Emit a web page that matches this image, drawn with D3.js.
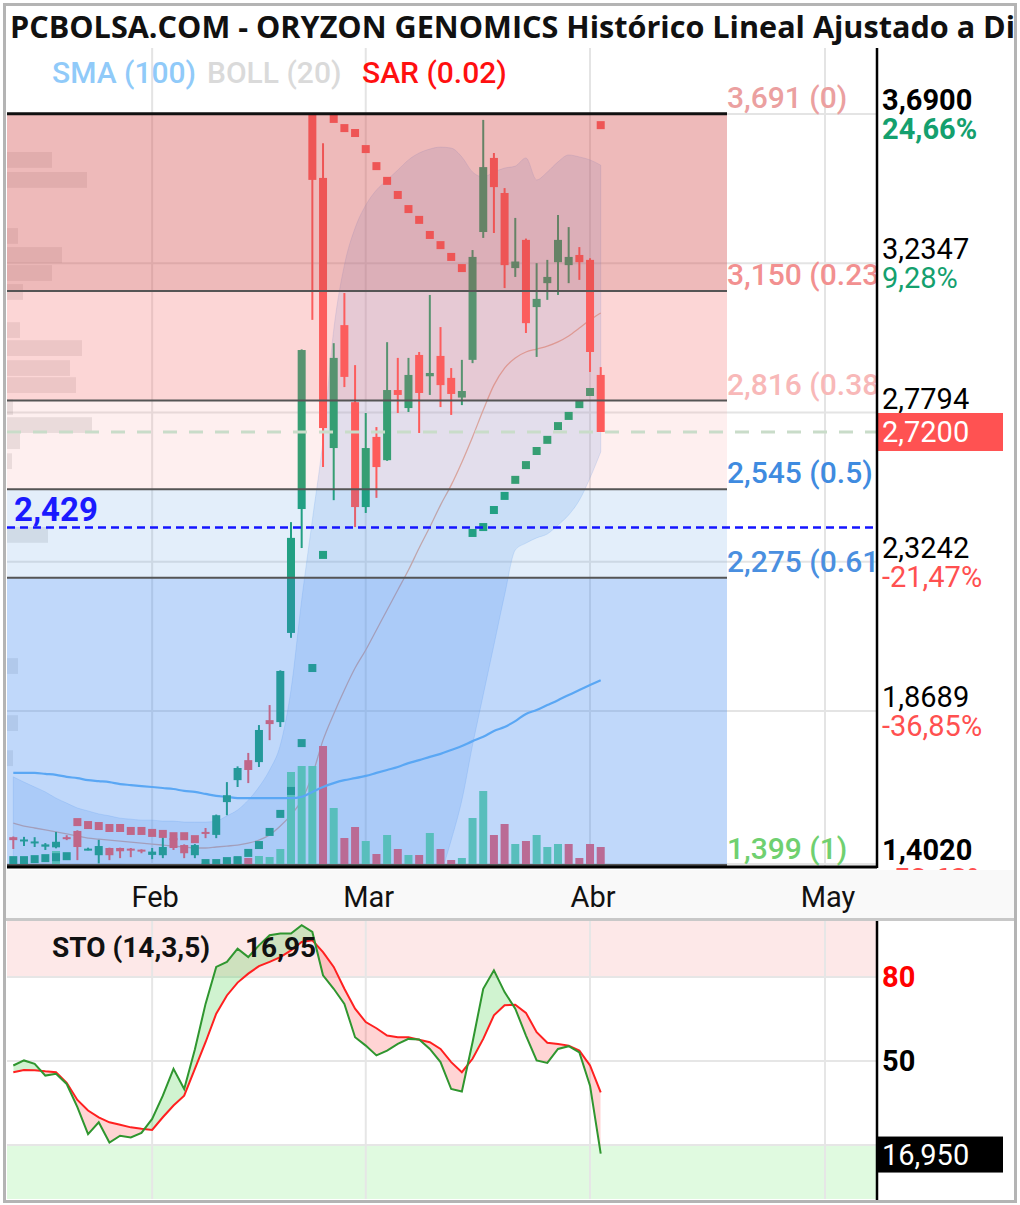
<!DOCTYPE html>
<html><head><meta charset="utf-8">
<script src="https://cdn.jsdelivr.net/npm/d3@7"></script>
<style>
body{margin:0;background:#fff;}
svg{display:block;font-family:Roboto,"Noto Sans",sans-serif;}
</style>
</head><body>
<svg id="c" width="1020" height="1205"></svg>
<script>
// ---------------- DATA ----------------
const dates = ["2025-01-15","2025-01-16","2025-01-17","2025-01-20","2025-01-21","2025-01-22","2025-01-23","2025-01-24","2025-01-27","2025-01-28","2025-01-29","2025-01-30","2025-01-31",
"2025-02-03","2025-02-04","2025-02-05","2025-02-06","2025-02-07","2025-02-10","2025-02-11","2025-02-12","2025-02-13","2025-02-14","2025-02-17","2025-02-18","2025-02-19","2025-02-20","2025-02-21","2025-02-24","2025-02-25","2025-02-26","2025-02-27","2025-02-28",
"2025-03-03","2025-03-04","2025-03-05","2025-03-06","2025-03-07","2025-03-10","2025-03-11","2025-03-12","2025-03-13","2025-03-14","2025-03-17","2025-03-18","2025-03-19","2025-03-20","2025-03-21","2025-03-24","2025-03-25","2025-03-26","2025-03-27","2025-03-28","2025-03-31",
"2025-04-01","2025-04-02"];
const open  = [1.484,1.474,1.468,1.455,1.453,1.484,1.503,1.447,1.429,1.451,1.451,1.449,1.446,1.430,1.429,1.481,1.460,1.429,1.500,1.491,1.591,1.658,1.719,1.713,1.841,1.835,2.107,2.485,3.687,3.495,2.671,3.046,2.811,2.491,2.705,2.634,2.848,2.793,2.955,2.890,2.952,2.885,2.825,2.940,3.330,3.556,3.449,3.220,3.306,3.101,3.174,3.238,3.229,3.260,3.245,2.894];
const high  = [1.486,1.485,1.484,1.466,1.500,1.490,1.505,1.452,1.476,1.452,1.452,1.451,1.447,1.451,1.485,1.483,1.462,1.463,1.512,1.553,1.652,1.700,1.741,1.826,1.887,1.993,2.445,2.972,3.690,3.601,2.991,3.144,2.924,2.778,2.735,2.994,2.946,2.946,2.964,3.138,3.040,2.915,2.940,3.275,3.672,3.571,3.464,3.373,3.310,3.235,3.245,3.382,3.345,3.284,3.250,2.918];
const low   = [1.448,1.457,1.454,1.445,1.450,1.475,1.414,1.444,1.404,1.414,1.420,1.423,1.435,1.417,1.420,1.445,1.420,1.420,1.481,1.481,1.551,1.637,1.649,1.698,1.780,1.820,2.092,2.366,3.062,2.613,2.512,2.857,2.430,2.473,2.519,2.632,2.778,2.781,2.717,2.833,2.796,2.772,2.802,2.930,3.312,3.327,3.159,3.193,3.022,2.949,3.123,3.138,3.174,3.184,2.903,2.720];
const close = [1.475,1.477,1.471,1.462,1.470,1.480,1.454,1.449,1.457,1.429,1.441,1.445,1.440,1.440,1.454,1.451,1.435,1.460,1.495,1.551,1.612,1.695,1.689,1.811,1.829,1.991,2.397,2.970,3.489,2.732,2.946,2.888,2.491,2.671,2.613,2.848,2.833,2.894,2.839,2.900,2.863,2.836,2.845,3.254,3.528,3.467,3.229,3.240,3.052,3.126,3.193,3.306,3.254,3.238,2.964,2.720];
const volume = [100,100,100,100,800,100,100,50,100,50,50,50,50,50,100,100,50,100,200,150,350,500,450,550,500,900,4750,5050,5050,6050,2950,1450,2000,1300,650,1600,900,600,600,1700,900,350,450,2450,3800,1600,2150,1150,1300,1600,1000,1150,1150,450,1150,1000];
const sar = [1.414,1.414,1.417,1.420,1.423,1.426,1.530,1.521,1.518,1.512,1.512,1.503,1.503,1.497,1.494,1.487,1.487,1.478,1.405,1.405,1.411,1.414,1.436,1.460,1.500,1.555,1.625,1.771,2.000,2.345,3.675,3.647,3.632,3.583,3.531,3.486,3.443,3.400,3.367,3.321,3.290,3.254,3.220,2.412,2.430,2.482,2.525,2.574,2.619,2.662,2.696,2.738,2.769,2.805,2.842,3.656];
const sma100 = [1.680,1.680,1.680,1.677,1.674,1.668,1.664,1.658,1.655,1.652,1.646,1.643,1.640,1.637,1.634,1.631,1.625,1.622,1.616,1.610,1.607,1.603,1.603,1.603,1.603,1.603,1.603,1.607,1.622,1.637,1.649,1.658,1.664,1.671,1.680,1.689,1.698,1.710,1.719,1.729,1.738,1.750,1.762,1.777,1.790,1.808,1.820,1.838,1.860,1.872,1.887,1.902,1.918,1.933,1.948,1.963];
const bollUpper = [1.668,1.652,1.637,1.622,1.603,1.588,1.573,1.564,1.555,1.549,1.542,1.539,1.536,1.536,1.533,1.533,1.530,1.530,1.530,1.533,1.549,1.567,1.597,1.637,1.689,1.765,1.933,2.207,2.451,2.695,3.031,3.229,3.342,3.412,3.458,3.489,3.519,3.550,3.571,3.583,3.589,3.586,3.559,3.513,3.498,3.513,3.525,3.531,3.556,3.489,3.513,3.544,3.565,3.559,3.550,3.534];
const bollMid = [1.527,1.518,1.512,1.506,1.500,1.494,1.488,1.481,1.478,1.475,1.472,1.469,1.466,1.463,1.460,1.457,1.454,1.451,1.451,1.454,1.457,1.460,1.466,1.475,1.491,1.518,1.552,1.597,1.674,1.780,1.860,1.933,2.000,2.055,2.116,2.177,2.238,2.299,2.366,2.430,2.497,2.558,2.628,2.705,2.787,2.863,2.915,2.946,2.964,2.973,2.982,2.995,3.013,3.037,3.062,3.083];
const bollLower = [1.387,1.384,1.387,1.390,1.396,1.399,1.402,1.399,1.402,1.402,1.402,1.399,1.396,1.390,1.387,1.381,1.378,1.372,1.372,1.375,1.365,1.353,1.335,1.313,1.292,1.271,1.170,0.987,0.896,0.865,0.688,0.636,0.658,0.697,0.774,0.865,0.957,1.048,1.161,1.277,1.368,1.475,1.597,1.765,1.918,2.070,2.223,2.360,2.381,2.397,2.409,2.436,2.467,2.512,2.580,2.659];
const stoK = [48.4,50.2,49.0,44.8,45.4,41.8,33.5,23.9,28.1,20.9,23.3,22.7,24.3,29.3,37.6,47.2,40.0,54.1,70.4,83.6,85.4,90.1,87.1,91.3,94.9,95.5,95.5,98.5,96.1,80.6,75.8,70.4,58.5,55.5,52.0,53.7,56.1,57.9,57.7,54.3,49.6,40.0,39.1,56.7,75.8,82.4,74.6,68.7,59.1,50.2,49.3,54.3,55.3,53.1,41.2,16.95];
const stoD = [46.0,46.8,46.7,46.3,46.0,42.2,36.1,32.3,29.9,28.1,27.2,26.3,25.8,25.4,29.9,34.1,37.6,47.2,56.7,66.9,73.4,78.0,81.2,83.9,85.4,87.1,89.5,92.5,93.1,88.9,83.6,75.8,68.7,63.9,61.7,59.1,58.5,58.5,57.6,56.7,54.3,49.6,46.0,50.8,57.9,66.3,69.9,70.1,67.2,60.3,56.5,56.1,55.5,53.7,48.4,38.8];
const priceTicks = [3.69,3.2347,2.7794,2.3242,1.8689,1.402];
const priceTickLabels = ["3,6900","3,2347","2,7794","2,3242","1,8689","1,4020"];
const pctTickLabels = ["24,66%","9,28%","","-21,47%","-36,85%","-52,63%"];
const monthTickLabels = ["Feb","Mar","Abr","May"];
const monthTickIndex = [13,33,54,76];
const fibLevels = [3.691,3.150,2.816,2.545,2.275,1.399];
const fibLabels = ["3,691 (0)","3,150 (0.236)","2,816 (0.382)","2,545 (0.5)","2,275 (0.618)","1,399 (1)"];
const profilePrice = [3.550,3.489,3.318,3.260,3.205,3.147,3.031,2.976,2.915,2.863,2.796,2.741,2.692,2.631,2.406,2.006,1.832,1.725];
const profileSize  = [45,80,11,55,45,16,13,75,63,69,6,85,13,5,41,11,11,6];
const lastPrice = 2.72, lastPriceLabel = "2,7200";
const supportLevel = 2.429, supportLabel = "2,429";
const stoLevels = [80,50,20];
const stoLast = 16.95, stoLastLabel = "16,950", stoTitle = "STO (14,3,5)", stoTitleVal = "16,95";
const title = "PCBOLSA.COM - ORYZON GENOMICS Histórico Lineal Ajustado a Dividendos";

// ---------------- LAYOUT ----------------
const L=7, R=877, T=48, B=867, FIBR=727, ST=921, SB=1199;
const svg = d3.select("#c");
const defs = svg.append("defs");
defs.append("clipPath").attr("id","cm").append("rect").attr("x",L).attr("y",T).attr("width",R-L).attr("height",B-T);
defs.append("clipPath").attr("id","cs").append("rect").attr("x",L).attr("y",ST).attr("width",R-L).attr("height",SB-ST);
defs.append("clipPath").attr("id","ct").append("rect").attr("x",0).attr("y",0).attr("width",1014).attr("height",48);

const idx = d3.range(close.length);
const x = d3.scaleLinear().domain([0,76]).range([13.3,825]);
const y = d3.scaleLinear().domain([1.8689,3.69]).range([711,114]);
const vy = d3.scaleLinear().domain([0,6050]).range([B,B-121]);
const px = d3.scaleLinear().domain([0,100]).range([L,L+100]);
const sy = d3.scaleLinear().domain([0,100]).range([1201,921]);

const GREEN="#14a06e", RED="#ff5252";

svg.append("rect").attr("width",1020).attr("height",1205).attr("fill","#fff");

// title
svg.append("text").attr("clip-path","url(#ct)").attr("x",10).attr("y",38)
  .attr("font-family","'Open Sans',sans-serif")
  .attr("font-size",30.6).attr("font-weight","bold").attr("fill","#111").text(title);

// ---------------- MAIN PANEL ----------------
const g = svg.append("g").attr("clip-path","url(#cm)");
g.selectAll(".hg").data(priceTicks).join("line")
  .attr("x1",L).attr("x2",R).attr("y1",d=>y(d)).attr("y2",d=>y(d)).attr("stroke","#e4e4e4").attr("stroke-width",2);
g.selectAll(".vg").data(monthTickIndex).join("line")
  .attr("x1",d=>x(d)).attr("x2",d=>x(d)).attr("y1",T).attr("y2",B).attr("stroke","#e4e4e4").attr("stroke-width",2);

// volume profile
g.selectAll(".vp").data(profilePrice).join("rect")
  .attr("x",L).attr("width",(d,i)=>px(profileSize[i])-L)
  .attr("y",d=>y(d+0.024)).attr("height",d=>y(d-0.024)-y(d+0.024))
  .attr("fill","rgba(128,128,128,0.18)");

// bollinger
g.append("path").datum(idx)
  .attr("d",d3.area().x(i=>x(i)).y0(i=>y(bollLower[i])).y1(i=>y(bollUpper[i])).curve(d3.curveMonotoneX))
  .attr("fill","rgba(100,160,240,0.2)").attr("stroke","rgba(120,170,240,0.25)").attr("stroke-width",1);
g.append("path").datum(idx)
  .attr("d",d3.line().x(i=>x(i)).y(i=>y(bollMid[i])).curve(d3.curveMonotoneX))
  .attr("fill","none").attr("stroke","#d4a8a0").attr("stroke-width",1.3);

// volume bars
g.selectAll(".vol").data(idx).join("rect")
  .attr("x",i=>x(i)-4).attr("width",8).attr("y",i=>vy(volume[i])).attr("height",i=>B-vy(volume[i]))
  .attr("fill",i=>((i===0?open[0]:close[i-1])<=close[i])?"#62d8a2":"#f65a66");

// SMA 100
g.append("path").datum(idx)
  .attr("d",d3.line().x(i=>x(i)).y(i=>y(sma100[i])).curve(d3.curveMonotoneX))
  .attr("fill","none").attr("stroke","#64b5f6").attr("stroke-width",2.2);

// candles
const cg = g.append("g");
cg.selectAll(".wk").data(idx).join("line")
  .attr("x1",i=>x(i)).attr("x2",i=>x(i)).attr("y1",i=>y(high[i])).attr("y2",i=>y(low[i]))
  .attr("stroke",i=>close[i]>=open[i]?GREEN:RED).attr("stroke-width",2);
cg.selectAll(".bd").data(idx).join("rect")
  .attr("x",i=>x(i)-4).attr("width",8)
  .attr("y",i=>y(Math.max(open[i],close[i])))
  .attr("height",i=>Math.max(2,Math.abs(y(open[i])-y(close[i]))))
  .attr("fill",i=>close[i]>=open[i]?GREEN:RED);

// SAR
g.selectAll(".sar").data(idx).join("rect")
  .attr("x",i=>x(i)-4).attr("y",i=>y(sar[i])-4).attr("width",8).attr("height",8)
  .attr("fill",i=>sar[i]>close[i]?RED:GREEN);

// fib zones overlay
const zoneFill=["rgba(215,90,90,0.42)","rgba(245,120,120,0.30)","rgba(245,150,150,0.15)","rgba(100,160,230,0.18)","rgba(70,140,240,0.34)"];
g.selectAll(".fz").data(d3.range(fibLevels.length-1)).join("rect")
  .attr("x",L).attr("width",FIBR-L).attr("y",k=>y(fibLevels[k])).attr("height",k=>y(fibLevels[k+1])-y(fibLevels[k]))
  .attr("fill",k=>zoneFill[k]);
g.selectAll(".fl").data(fibLevels).join("line")
  .attr("x1",L).attr("x2",FIBR).attr("y1",d=>y(d)).attr("y2",d=>y(d))
  .attr("stroke",(d,k)=>k===0?"#111":"#555").attr("stroke-width",(d,k)=>k===0?3:2);
const fibCol=["#eba0a0","#f29090","#f8b8b8","#3f8be0","#4a8fe0","#70d070"];
g.selectAll(".ft").data(fibLevels).join("text")
  .attr("x",FIBR).attr("y",d=>y(d)-6).attr("font-size",30).attr("font-weight",500).attr("fill",(d,k)=>fibCol[k])
  .text((d,k)=>fibLabels[k]);

// last price dashed line
g.append("line").attr("x1",L).attr("x2",R).attr("y1",y(lastPrice)).attr("y2",y(lastPrice))
  .attr("stroke","#c9dcc9").attr("stroke-width",3).attr("stroke-dasharray","14,12");
// support line
g.append("line").attr("x1",L).attr("x2",R).attr("y1",y(supportLevel)).attr("y2",y(supportLevel))
  .attr("stroke","#1515ff").attr("stroke-width",2.5).attr("stroke-dasharray","8,5");
g.append("text").attr("x",14).attr("y",y(supportLevel)-6).attr("font-size",33).attr("font-weight","bold")
  .attr("fill","#1a1aff").text(supportLabel);

// legend
const lg = svg.append("text").attr("y",83).attr("font-size",30).attr("font-weight",500);
lg.append("tspan").attr("x",52).attr("fill","#90caf9").text("SMA (100)");
lg.append("tspan").attr("x",207).attr("fill","#dadada").text("BOLL (20)");
lg.append("tspan").attr("x",362).attr("fill","#ff1010").text("SAR (0.02)");

// right axis labels
const ra = svg.append("g");
priceTicks.forEach((v,k)=>{
  const bold = (k===0||k===priceTicks.length-1);
  ra.append("text").attr("x",882).attr("y",y(v)-4).attr("font-size",29)
    .attr("font-weight",bold?"bold":"normal").attr("fill","#000").text(priceTickLabels[k]);
  if (pctTickLabels[k]) ra.append("text").attr("x",882).attr("y",y(v)+25).attr("font-size",29)
    .attr("font-weight",bold?"bold":"normal").attr("fill",pctTickLabels[k][0]==="-"?"#ff5050":GREEN).text(pctTickLabels[k]);
});
svg.append("rect").attr("x",877).attr("y",y(lastPrice)-19).attr("width",126).attr("height",38).attr("fill","#ff5252");
svg.append("text").attr("x",882).attr("y",y(lastPrice)+10).attr("font-size",29).attr("fill","#fff").text(lastPriceLabel);

// axis band
svg.append("rect").attr("x",5).attr("y",870).attr("width",1010).attr("height",49).attr("fill","#f9f9f9");
svg.append("line").attr("x1",L).attr("x2",R).attr("y1",B).attr("y2",B).attr("stroke","#000").attr("stroke-width",3);
svg.append("line").attr("x1",R).attr("x2",R).attr("y1",T).attr("y2",B+1).attr("stroke","#000").attr("stroke-width",2.5);
svg.selectAll(".mt").data(monthTickIndex).join("text")
  .attr("x",d=>x(d)+3).attr("y",907).attr("text-anchor","middle").attr("font-size",29).attr("fill","#111")
  .text((d,k)=>monthTickLabels[k]);
svg.append("line").attr("x1",5).attr("x2",1015).attr("y1",919.5).attr("y2",919.5).attr("stroke","#c8c8c8").attr("stroke-width",3);

// ---------------- STO PANEL ----------------
const s = svg.append("g").attr("clip-path","url(#cs)");
s.append("rect").attr("x",L).attr("width",R-L).attr("y",sy(100)).attr("height",sy(80)-sy(100)).attr("fill","#fde8e8");
s.append("rect").attr("x",L).attr("width",R-L).attr("y",sy(20)).attr("height",sy(0)-sy(20)).attr("fill","#e0fae0");
s.selectAll(".sg").data(stoLevels).join("line")
  .attr("x1",L).attr("x2",R).attr("y1",d=>sy(d)).attr("y2",d=>sy(d)).attr("stroke","#e6e6e6").attr("stroke-width",2);
s.selectAll(".svg").data(monthTickIndex).join("line")
  .attr("x1",d=>x(d)).attr("x2",d=>x(d)).attr("y1",ST).attr("y2",SB).attr("stroke","#e6e6e6").attr("stroke-width",2);

defs.append("clipPath").attr("id","kAbove").append("path").datum(idx)
  .attr("d",d3.area().x(i=>x(i)).y0(ST-10).y1(i=>sy(stoD[i])));
defs.append("clipPath").attr("id","kBelow").append("path").datum(idx)
  .attr("d",d3.area().x(i=>x(i)).y0(SB+10).y1(i=>sy(stoD[i])));
const kd = d3.area().x(i=>x(i)).y0(i=>sy(stoD[i])).y1(i=>sy(stoK[i]));
s.append("g").attr("clip-path","url(#kAbove)").append("path").datum(idx).attr("d",kd).attr("fill","rgba(40,200,40,0.22)");
s.append("g").attr("clip-path","url(#kBelow)").append("path").datum(idx).attr("d",kd).attr("fill","rgba(255,60,60,0.22)");
s.append("path").datum(idx).attr("d",d3.line().x(i=>x(i)).y(i=>sy(stoD[i])))
  .attr("fill","none").attr("stroke","#ff2020").attr("stroke-width",2);
s.append("path").datum(idx).attr("d",d3.line().x(i=>x(i)).y(i=>sy(stoK[i])))
  .attr("fill","none").attr("stroke","#2f962f").attr("stroke-width",2);

const stt = svg.append("text").attr("y",957).attr("font-size",28).attr("font-weight","bold").attr("fill","#111");
stt.append("tspan").attr("x",52).text(stoTitle);
stt.append("tspan").attr("x",245).text(stoTitleVal);

svg.append("line").attr("x1",R).attr("x2",R).attr("y1",ST).attr("y2",SB+1).attr("stroke","#000").attr("stroke-width",2.5);
svg.append("text").attr("x",882).attr("y",sy(80)+10).attr("font-size",29).attr("font-weight","bold").attr("fill","#ff0000").text("80");
svg.append("text").attr("x",882).attr("y",sy(50)+10).attr("font-size",29).attr("font-weight","bold").attr("fill","#000").text("50");
svg.append("rect").attr("x",877).attr("y",sy(stoLast)-17).attr("width",126).attr("height",36).attr("fill","#000");
svg.append("text").attr("x",882).attr("y",sy(stoLast)+11).attr("font-size",29).attr("fill","#fff").text(stoLastLabel);

// outer border
svg.append("rect").attr("x",4.5).attr("y",4.5).attr("width",1011).attr("height",1197)
  .attr("fill","none").attr("stroke","#b4b4b4").attr("stroke-width",3);
</script>
</body></html>
